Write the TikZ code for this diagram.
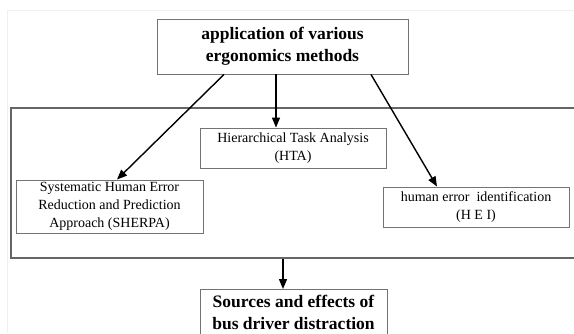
\documentclass[tikz,border=0pt]{standalone}
\usepackage{fontspec}
\setmainfont{Liberation Serif}
\usetikzlibrary{arrows.meta,positioning}

\begin{document}
\begin{tikzpicture}[x=1pt, y=-1pt,
    box/.style={draw=gray!90!black, line width=0.9pt, inner sep=0pt, align=center,
      minimum height=40pt, font=\fontsize{14}{18}\selectfont},
    headbox/.style={box, font=\bfseries\fontsize{17.5}{22}\selectfont},
    arr/.style={-{Triangle[length=10pt,width=8pt]}, line width=1.4pt}]

    \useasboundingbox (0,0) rectangle (574,333);
    \clip (0,0) rectangle (574,333);

    % Page edge
    \draw[gray!12, line width=0.8pt] (7,333) -- (7,10) -- (574,10);

    % Frame round the methods
    \node[draw=gray!80!black, line width=1.6pt, minimum width=590pt, minimum height=150pt,
      inner sep=0pt, anchor=north west] (frame) at (10,107) {};

    % Head and result boxes
    \node[headbox, minimum width=251pt, minimum height=55pt] (apply) at (282.5,46.5)
      {application of various\\ergonomics methods};
    \node[headbox, minimum width=187pt, minimum height=46pt, anchor=north] (result) at (293.5,289)
      {Sources and effects of\\bus driver distraction};

    % Method boxes
    \node[box, minimum width=186pt] (hta) at (293,148) {Hierarchical Task Analysis\\(HTA)};
    \node[box, minimum width=187pt, minimum height=53pt] (sherpa) at (109.5,206.5)
      {Systematic Human Error\\Reduction and Prediction\\Approach (SHERPA)};
    \node[box, minimum width=186pt] (hei) at (476,207) {human error\ \ identification\\(H E I)};

    % Arrows
    \draw[arr] ([xshift=-58.5pt]apply.south) -- ([xshift=7.5pt]sherpa.north);
    \draw[arr] ([xshift=-6.5pt]apply.south) -- ([xshift=-6.5pt]apply.south |- hta.north);
    \draw[arr] ([xshift=88.5pt]apply.south) -- ([xshift=-39pt]hei.north);
    \draw[arr] ([xshift=-10.5pt]result.north |- frame.south) -- ([xshift=-10.5pt]result.north);

\end{tikzpicture}
\end{document}
